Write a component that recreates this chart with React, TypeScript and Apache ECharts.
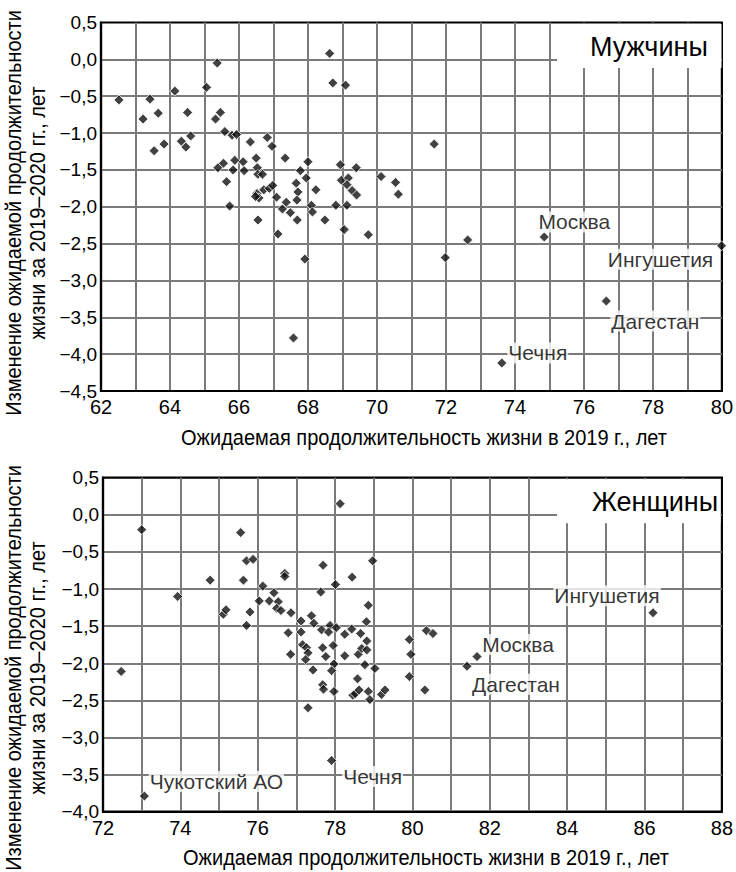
import React, { useEffect, useRef } from "react";
import * as echarts from "echarts";

// ---- Data: men (Мужчины) ----
const menPoints: [number, number][] = [
  [62.52, -0.55], [63.22, -0.81], [63.42, -0.54], [63.66, -0.73], [63.54, -1.24],
  [63.83, -1.15], [64.14, -0.43], [64.33, -1.11], [64.46, -1.19], [64.51, -0.72],
  [64.6, -1.04], [65.06, -0.38], [65.37, -0.05], [65.32, -0.81], [65.46, -0.72],
  [65.59, -0.98], [65.39, -1.47], [65.55, -1.41], [65.64, -1.66], [65.73, -1.99],
  [65.8, -1.03], [65.93, -1.02], [65.88, -1.37], [65.83, -1.5], [66.12, -1.39],
  [66.15, -1.51], [66.33, -1.12], [66.5, -1.34], [66.53, -1.47], [66.55, -1.56],
  [66.68, -1.56], [66.52, -1.82], [66.58, -1.88], [66.48, -1.86], [66.72, -1.77],
  [66.88, -1.75], [66.82, -1.06], [66.96, -1.18], [66.98, -1.71], [67.09, -1.87],
  [67.34, -1.34], [67.26, -2.03], [67.37, -1.94], [67.49, -2.08], [67.66, -1.68],
  [67.71, -1.8], [67.68, -1.91], [67.78, -1.51], [67.95, -1.61], [68.0, -1.39],
  [68.23, -1.77], [68.1, -1.98], [68.13, -2.07], [68.63, 0.08], [68.72, -0.32],
  [69.09, -0.35], [68.94, -1.43], [68.97, -1.64], [69.17, -1.61], [69.13, -1.7],
  [69.28, -1.78], [69.41, -1.84], [69.4, -1.47], [68.81, -1.98], [69.13, -1.98],
  [66.55, -2.18], [67.13, -2.37], [67.69, -2.18], [67.91, -2.71], [67.58, -3.78],
  [68.49, -2.18], [69.05, -2.31], [69.75, -2.38], [71.66, -1.15], [70.12, -1.59],
  [70.54, -1.67], [70.62, -1.83], [71.98, -2.69], [72.63, -2.45],
];
const menNamed: { name: string; x: number; y: number }[] = [
  { name: "Москва", x: 74.85, y: -2.41 },
  { name: "Ингушетия", x: 79.99, y: -2.53 },
  { name: "Дагестан", x: 76.65, y: -3.28 },
  { name: "Чечня", x: 73.62, y: -4.12 },
];

// ---- Data: women (Женщины) ----
const womenPoints: [number, number][] = [
  [72.47, -2.11], [73.0, -0.2], [73.93, -1.1], [74.77, -0.88], [75.56, -0.24],
  [75.63, -0.88], [75.71, -0.62], [75.88, -0.6], [75.11, -1.34], [75.18, -1.28],
  [75.71, -1.49], [75.8, -1.31], [76.13, -0.96], [76.04, -1.16], [76.3, -1.16],
  [76.42, -1.05], [76.53, -1.17], [76.49, -1.26], [76.6, -1.29], [76.7, -0.79],
  [76.7, -0.83], [76.86, -1.32], [76.79, -1.59], [77.12, -1.43], [77.12, -1.58],
  [77.39, -1.36], [77.45, -1.46], [77.69, -0.68], [77.63, -1.04], [78.01, -0.94],
  [78.44, -0.84], [78.13, 0.15], [77.87, -1.49], [78.03, -1.52], [77.65, -1.55],
  [78.25, -1.61], [78.43, -1.54], [78.66, -1.6], [78.81, -1.44], [78.86, -1.22],
  [78.97, -0.62], [77.83, -1.58], [77.16, -1.75], [77.26, -1.79], [77.3, -1.86],
  [77.24, -1.95], [76.85, -1.88], [77.68, -1.79], [77.95, -1.76], [77.76, -1.91],
  [78.25, -1.9], [77.97, -2.01], [77.43, -2.09], [78.6, -1.88], [78.82, -1.7],
  [79.92, -1.68], [80.36, -1.56], [80.53, -1.6], [78.69, -1.8], [78.82, -1.82],
  [79.96, -1.88], [77.91, -2.1], [78.77, -2.02], [79.03, -2.07], [79.92, -2.18],
  [78.58, -2.21], [77.97, -2.38], [78.46, -2.43], [78.52, -2.41], [78.62, -2.36],
  [78.86, -2.38], [78.9, -2.49], [79.2, -2.42], [79.29, -2.36], [80.32, -2.36],
  [77.68, -2.29], [77.7, -2.35], [77.3, -2.6],
];
const womenNamed: { name: string; x: number; y: number }[] = [
  { name: "Чукотский АО", x: 73.07, y: -3.79 },
  { name: "Чечня", x: 77.91, y: -3.31 },
  { name: "Москва", x: 81.67, y: -1.91 },
  { name: "Дагестан", x: 81.41, y: -2.04 },
  { name: "Ингушетия", x: 86.22, y: -1.32 },
];

// axis ranges
const menX = { min: 62, max: 80 };
const menY = { min: -4.5, max: 0.5 };
const womenX = { min: 72, max: 88 };
const womenY = { min: -4, max: 0.5 };

const titles = ["Мужчины", "Женщины"];
const xAxisTitle = "Ожидаемая продолжительность жизни в 2019 г., лет";
const yAxisTitle = "Изменение ожидаемой продолжительности\nжизни за 2019–2020 гг., лет";

// label offsets (style)
const menLabelOffset: Record<string, [number, number]> = {
  "Москва": [30, -15],
  "Ингушетия": [-61, 13.5],
  "Дагестан": [49, 20],
  "Чечня": [36, -10],
};
const womenLabelOffset: Record<string, [number, number]> = {
  "Чукотский АО": [72, -14.5],
  "Чечня": [41, 16],
  "Москва": [41, -12],
  "Дагестан": [49, 18],
  "Ингушетия": [-46, -17],
};

const FONT = "'Liberation Sans', Arial, sans-serif";

const fmtY = (v: number) => {
  const s = Math.abs(v).toFixed(1).replace(".", ",");
  return v < -1e-9 ? "\u2212" + s : s;
};
const fmtX = (v: number) => (Math.round(v) % 2 === 0 ? String(Math.round(v)) : "");

function buildData(
  pts: [number, number][],
  named: { name: string; x: number; y: number }[],
  offs: Record<string, [number, number]>
) {
  const d: any[] = pts.map((p) => ({ value: p }));
  named.forEach((n) => {
    d.push({
      name: n.name,
      value: [n.x, n.y],
      label: {
        show: true,
        position: "inside",
        offset: offs[n.name],
        formatter: "{b}",
        color: "#000",
        fontSize: 21,
        fontFamily: FONT,
        backgroundColor: "#fff",
        padding: [0, 1],
      },
    });
  });
  return d;
}

export default function App() {
  const ref = useRef<HTMLDivElement>(null);
  useEffect(() => {
    document.body.style.margin = "0";
    if (!ref.current) return;
    const chart = echarts.init(ref.current, undefined, { renderer: "svg" });

    const splitLine = {
      show: true,
      showMinLine: false,
      showMaxLine: false,
      lineStyle: { color: "#7a7a7a", width: 2 },
    };
    const axisLine = { show: true, onZero: false, lineStyle: { color: "#000", width: 2.2 } };

    const xAxisBase = (r: { min: number; max: number }, gi: number) => ({
      type: "value",
      gridIndex: gi,
      min: r.min,
      max: r.max,
      interval: 1,
      axisLine,
      axisTick: { show: false },
      splitLine,
      axisLabel: {
        formatter: fmtX,
        color: "#000",
        fontSize: 20,
        fontFamily: FONT,
        margin: 6,
        showMaxLabel: true,
        showMinLabel: true,
      },
    });
    const yAxisBase = (r: { min: number; max: number }, gi: number) => ({
      type: "value",
      gridIndex: gi,
      min: r.min,
      max: r.max,
      interval: 0.5,
      axisLine,
      axisTick: { show: false },
      splitLine,
      axisLabel: {
        formatter: fmtY,
        color: "#000",
        fontSize: 19,
        fontFamily: FONT,
        margin: 4,
        showMaxLabel: true,
        showMinLabel: true,
      },
    });

    const scatterStyle = {
      symbol: "diamond",
      symbolSize: 10,
      itemStyle: { color: "#111", borderColor: "#fff", borderWidth: 1 },
    };

    const titleText = (x: number, y: number) => ({
      type: "text", z: 5, x, y, scaleX: 0.91,
      style: { text: xAxisTitle, fill: "#000", font: `22px ${FONT}`, align: "center", verticalAlign: "middle" },
    });
    const yTitleText = (x: number, y: number) => ({
      type: "text", z: 5, x, y, rotation: Math.PI / 2, scaleX: 0.91,
      style: { text: yAxisTitle, fill: "#000", font: `22px ${FONT}`, align: "center", verticalAlign: "middle", lineHeight: 24 },
    });

    chart.setOption({
      animation: false,
      backgroundColor: "#fff",
      grid: [
        { left: 101, right: 13, top: 22.5, height: 368.5, show: true, borderColor: "#000", borderWidth: 2.2 },
        { left: 103, right: 14, top: 477.7, height: 334, show: true, borderColor: "#000", borderWidth: 2.2 },
      ],
      title: [
        { text: titles[0], left: 585, top: 28, textStyle: { fontSize: 27, fontWeight: "normal", color: "#000", fontFamily: FONT } },
        { text: titles[1], left: 587, top: 483, textStyle: { fontSize: 27, fontWeight: "normal", color: "#000", fontFamily: FONT } },
      ],
      xAxis: [xAxisBase(menX, 0), xAxisBase(womenX, 1)],
      yAxis: [yAxisBase(menY, 0), yAxisBase(womenY, 1)],
      graphic: [
        { type: "rect", z: 1, shape: { x: 557, y: 24, width: 164.5, height: 44 }, style: { fill: "#fff" } },
        { type: "rect", z: 1, shape: { x: 557, y: 479.2, width: 163.5, height: 44 }, style: { fill: "#fff" } },
        titleText(424, 437),
        titleText(426, 857),
        yTitleText(25, 213),
        yTitleText(25, 668),
      ],
      series: [
        {
          type: "scatter",
          xAxisIndex: 0,
          yAxisIndex: 0,
          z: 3,
          ...scatterStyle,
          data: buildData(menPoints, menNamed, menLabelOffset),
        },
        {
          type: "scatter",
          xAxisIndex: 1,
          yAxisIndex: 1,
          z: 3,
          ...scatterStyle,
          data: buildData(womenPoints, womenNamed, womenLabelOffset),
        },
      ],
    });
    return () => chart.dispose();
  }, []);
  return <div ref={ref} style={{ width: 736, height: 872 }} />;
}
